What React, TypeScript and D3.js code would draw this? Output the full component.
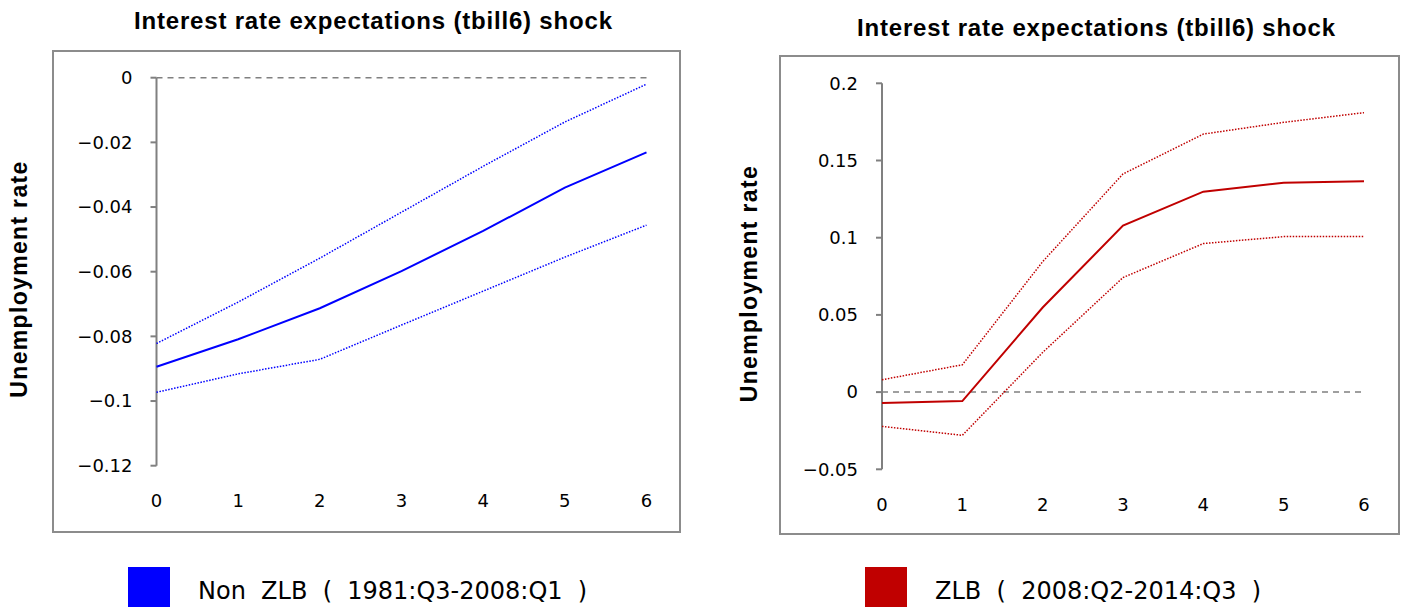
import React from "react";
import * as d3 from "d3";

// horizons (quarters after the shock)
const horizons = [0, 1, 2, 3, 4, 5, 6];

// Non ZLB (1981:Q3-2008:Q1)
const nonZlbMid = [-0.0894, -0.0809, -0.0713, -0.0598, -0.0474, -0.034, -0.0231];
const nonZlbUpper = [-0.0822, -0.0694, -0.0558, -0.0416, -0.0274, -0.0137, -0.002];
const nonZlbLower = [-0.0973, -0.0916, -0.0871, -0.0765, -0.066, -0.0555, -0.0456];
const nonZlbTicks = [0, -0.02, -0.04, -0.06, -0.08, -0.1, -0.12];

// ZLB (2008:Q2-2014:Q3)
const zlbMid = [-0.0071, -0.0058, 0.0548, 0.1078, 0.1298, 0.1356, 0.1365];
const zlbUpper = [0.008, 0.0177, 0.0845, 0.1413, 0.1671, 0.1747, 0.181];
const zlbLower = [-0.0222, -0.028, 0.0257, 0.0742, 0.0962, 0.1007, 0.1007];
const zlbTicks = [0.2, 0.15, 0.1, 0.05, 0, -0.05];

const title = "Interest rate expectations (tbill6) shock";
const yLabel = "Unemployment rate";

const fmt = (v: number) => (v < 0 ? "\u2212" + String(-v) : String(v));
const tickFont = "'DejaVu Sans', sans-serif";

function Panel(props: any) {
  const { box, xr, yr, domain, ticks, mid, upper, lower, color, titleX, titleY, labelX, legendX, legendText } = props;
  const x = d3.scaleLinear().domain([0, 6]).range(xr);
  const y = d3.scaleLinear().domain(domain).range(yr);
  const line = d3.line<number>().x((d, i) => x(horizons[i])).y(d => y(d));

  return (
    <g>
      <text x={titleX} y={titleY} textAnchor="middle" fontFamily="'Liberation Sans', Arial, sans-serif"
        fontWeight="bold" fontSize={24} textLength={478} lengthAdjust="spacing" style={{ whiteSpace: "pre" }}>{title}</text>
      <rect x={box[0]} y={box[1]} width={box[2] - box[0]} height={box[3] - box[1]} fill="none" stroke="#8c8c8c" strokeWidth={2} />
      <text transform={`translate(${labelX},${(yr[0] + yr[1]) / 2 + 8}) rotate(-90)`} textAnchor="middle"
        fontFamily="'Liberation Sans', Arial, sans-serif" fontWeight="bold" fontSize={23} textLength={236} lengthAdjust="spacing"
        style={{ whiteSpace: "pre" }}>{yLabel}</text>
      <line x1={xr[0]} x2={xr[1]} y1={y(0)} y2={y(0)} stroke="#808080" strokeWidth={1.5} strokeDasharray="6,5" />
      <line x1={xr[0]} x2={xr[0]} y1={y(domain[0])} y2={y(domain[1])} stroke="#808080" strokeWidth={2} />
      {ticks.map((t: number) => (
        <g key={t}>
          <line x1={xr[0] - 6} x2={xr[0]} y1={y(t)} y2={y(t)} stroke="#808080" strokeWidth={2} />
          <text x={xr[0] - 24} y={y(t)} dy="0.35em" textAnchor="end" fontFamily={tickFont} fontSize={18}>{fmt(t)}</text>
        </g>
      ))}
      {horizons.map(h => (
        <text key={h} x={x(h)} y={y(domain[0]) + 35} dy="0.35em" textAnchor="middle" fontFamily={tickFont} fontSize={18}>{h}</text>
      ))}
      <path d={line(upper) || ""} fill="none" stroke={color} strokeWidth={1.5} strokeDasharray="1.5,1.5" />
      <path d={line(lower) || ""} fill="none" stroke={color} strokeWidth={1.5} strokeDasharray="1.5,1.5" />
      <path d={line(mid) || ""} fill="none" stroke={color} strokeWidth={2} />
      <rect x={legendX} y={567} width={42} height={42} fill={color} />
      <text x={legendX + 70} y={599} fontFamily="'DejaVu Sans', sans-serif" fontSize={24} style={{ whiteSpace: "pre" }}>{legendText}</text>
    </g>
  );
}

export default function App() {
  return (
    <svg width={1408} height={607} style={{ position: "absolute", left: 0, top: 0, background: "#fff" }}>
      <Panel box={[53, 51, 680, 532]} xr={[156.5, 646.5]} yr={[465.7, 77.7]} domain={[-0.12, 0]} ticks={nonZlbTicks}
        mid={nonZlbMid} upper={nonZlbUpper} lower={nonZlbLower} color="#0000ff" titleX={373} titleY={29}
        labelX={27} legendX={128} legendText={"Non  ZLB  (  1981:Q3-2008:Q1  )"} />
      <Panel box={[780, 56, 1399, 534]} xr={[882, 1364]} yr={[469.3, 83.3]} domain={[-0.05, 0.2]} ticks={zlbTicks}
        mid={zlbMid} upper={zlbUpper} lower={zlbLower} color="#c00000" titleX={1096} titleY={36}
        labelX={757} legendX={865} legendText={"ZLB  (  2008:Q2-2014:Q3  )"} />
    </svg>
  );
}
